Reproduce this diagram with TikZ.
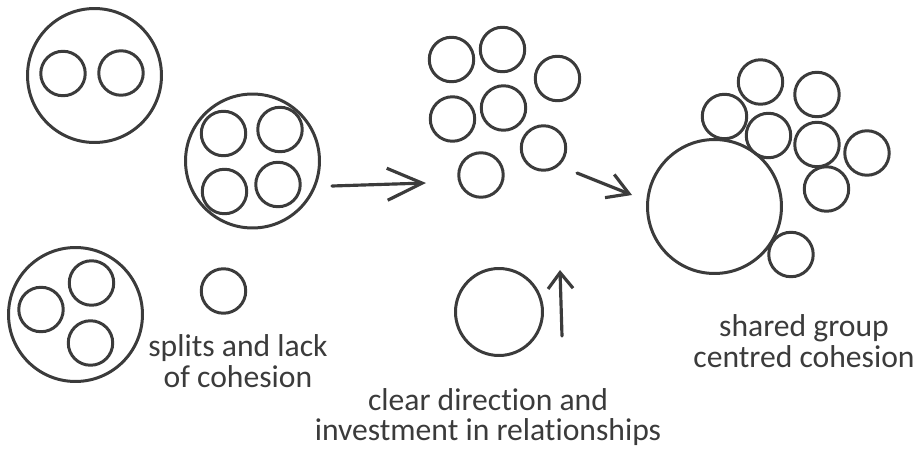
\documentclass[tikz,border=0pt]{standalone}
\usepackage{fontspec}
\setmainfont{Carlito}[Ligatures={NoCommon}]
\usetikzlibrary{arrows.meta}
\definecolor{ink}{HTML}{3B3B3B}

\tikzset{
  ring/.style={draw=ink, line width=1.7pt, circle, inner sep=0pt, minimum size=0.89cm},
  bigring/.style={ring, minimum size=2.68cm},
  midring/.style={ring, minimum size=1.74cm},
  note/.style={text=ink, font=\fontsize{18}{17.5}\selectfont, align=center},
  move/.style={draw=ink, line width=1.8pt, line cap=round, line join=round}
}

\begin{document}
\begin{tikzpicture}[x=0.02cm, y=-0.02cm]
                \useasboundingbox (0,0) rectangle (921,450);
                \node[bigring] (pairgroup) at (94.5,75.5) {};
                \node[ring] (pairA) at (63,73.5) {};
                \node[ring] (pairB) at (121,73) {};
                \node[bigring] (quadgroup) at (252.5,161) {};
                \node[ring] (quadA) at (223.5,133.5) {};
                \node[ring] (quadB) at (280,129.5) {};
                \node[ring] (quadC) at (224.5,191.5) {};
                \node[ring] (quadD) at (278,184.5) {};
                \node[bigring] (trigroup) at (75.5,314.5) {};
                \node[ring] (triA) at (41,309.5) {};
                \node[ring] (triB) at (91.5,283) {};
                \node[ring] (triC) at (90.5,343) {};
                \node[ring] (loner) at (223.5,291) {};
                \node[note] (splitsnote) at (238,361) {splits and lack\\of cohesion};

                \node[ring] (looseA) at (451.5,59.5) {};
                \node[ring] (looseB) at (502.5,49.5) {};
                \node[ring] (looseC) at (557.5,78.5) {};
                \node[ring] (looseD) at (452.5,119) {};
                \node[ring] (looseE) at (503.5,108) {};
                \node[ring] (looseF) at (543.5,148) {};
                \node[ring] (looseG) at (481,175) {};
                \node[midring] (leader) at (499,312) {};
                \node[note] (directionnote) at (488,417) {clear direction and\\investment in relationships};

                \node[bigring] (core) at (714.5,206.5) {};
                \node[ring] (tightA) at (724.5,116.5) {};
                \node[ring] (tightB) at (760.5,82) {};
                \node[ring] (tightC) at (768.5,135.5) {};
                \node[ring] (tightD) at (817,94.5) {};
                \node[ring] (tightE) at (817,144.5) {};
                \node[ring] (tightF) at (867,153) {};
                \node[ring] (tightG) at (826.5,189) {};
                \node[ring] (tightH) at (791,254.5) {};
                \node[note] (sharednote) at (804,341) {shared group\\centred cohesion};

                \coordinate (firstfrom) at (332,186);
                \coordinate (firstto) at (426,183);
                \coordinate (secondfrom) at (577,173);
                \coordinate (secondto) at (632,195);
                \coordinate (risefrom) at (562,336);
                \coordinate (riseto) at (560,270);
                \draw[move, -{Straight Barb[length=0.7cm, width=0.64cm]}] (firstfrom) -- (firstto);
                \draw[move, -{Straight Barb[length=0.42cm, width=0.5cm]}] (secondfrom) -- (secondto);
                \draw[move, -{Straight Barb[length=0.32cm, width=0.5cm]}] (risefrom) -- (riseto);
            \end{tikzpicture}
\end{document}
